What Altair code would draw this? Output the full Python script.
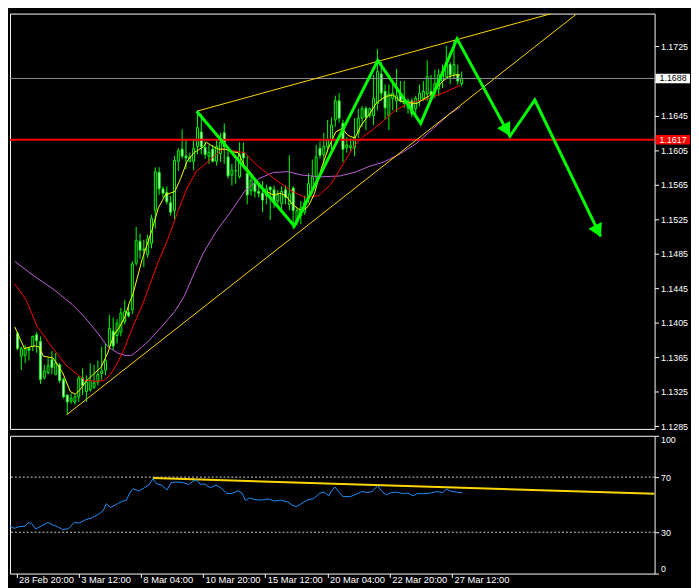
import altair as alt
import pandas as pd

# ---------------- data ----------------
opens = [1.1393,1.1366,1.1367,1.1375,1.1377,1.1391,1.1383,1.1341,1.1347,1.1362,
1.1345,1.1356,1.1339,1.1321,1.1314,1.1313,1.1319,1.1341,1.1325,1.1327,
1.1330,1.1336,1.1346,1.1350,1.1378,1.1395,1.1390,1.1394,1.1406,1.1417,
1.1420,1.1474,1.1499,1.1490,1.1484,1.1497,1.1535,1.1579,1.1560,1.1556,
1.1544,1.1535,1.1592,1.1606,1.1598,1.1592,1.1592,1.1609,1.1626,1.1608,
1.1598,1.1606,1.1592,1.1601,1.1625,1.1597,1.1576,1.1581,1.1574,1.1602,
1.1578,1.1558,1.1566,1.1557,1.1555,1.1552,1.1562,1.1559,1.1546,1.1543,
1.1559,1.1542,1.1561,1.1521,1.1529,1.1533,1.1550,1.1561,1.1574,1.1607,
1.1600,1.1609,1.1617,1.1640,1.1662,1.1636,1.1608,1.1608,1.1608,1.1625,
1.1642,1.1653,1.1645,1.1645,1.1659,1.1693,1.1673,1.1645,1.1665,1.1662,
1.1670,1.1659,1.1654,1.1662,1.1653,1.1662,1.1665,1.1670,1.1673,1.1671,
1.1676,1.1685,1.1690,1.1704,1.1693,1.1693,1.1682]
highs = [1.1394,1.1377,1.1379,1.1377,1.1390,1.1394,1.1389,1.1356,1.1364,1.1372,
1.1370,1.1358,1.1341,1.1322,1.1323,1.1322,1.1343,1.1352,1.1344,1.1358,
1.1356,1.1361,1.1377,1.1381,1.1414,1.1411,1.1409,1.1422,1.1431,1.1426,
1.1476,1.1516,1.1508,1.1501,1.1507,1.1530,1.1585,1.1585,1.1563,1.1563,
1.1552,1.1598,1.1607,1.1629,1.1618,1.1602,1.1617,1.1648,1.1647,1.1615,
1.1611,1.1611,1.1617,1.1625,1.1636,1.1608,1.1589,1.1594,1.1614,1.1614,
1.1598,1.1575,1.1570,1.1564,1.1569,1.1565,1.1563,1.1564,1.1559,1.1563,
1.1564,1.1599,1.1563,1.1538,1.1546,1.1552,1.1578,1.1594,1.1611,1.1615,
1.1625,1.1640,1.1643,1.1668,1.1671,1.1640,1.1620,1.1619,1.1642,1.1653,
1.1656,1.1656,1.1654,1.1692,1.1722,1.1707,1.1681,1.1681,1.1685,1.1699,
1.1685,1.1685,1.1665,1.1665,1.1668,1.1681,1.1685,1.1709,1.1692,1.1698,
1.1699,1.1704,1.1726,1.1707,1.1732,1.1704,1.1696]
lows = [1.1373,1.1350,1.1358,1.1361,1.1372,1.1370,1.1334,1.1339,1.1345,1.1345,
1.1344,1.1335,1.1317,1.1299,1.1311,1.1310,1.1313,1.1321,1.1313,1.1325,
1.1328,1.1332,1.1339,1.1344,1.1377,1.1373,1.1381,1.1389,1.1403,1.1411,
1.1415,1.1471,1.1479,1.1469,1.1480,1.1491,1.1514,1.1553,1.1550,1.1542,
1.1529,1.1524,1.1581,1.1595,1.1583,1.1591,1.1582,1.1600,1.1600,1.1595,
1.1589,1.1591,1.1587,1.1591,1.1589,1.1572,1.1564,1.1566,1.1572,1.1586,
1.1542,1.1552,1.1550,1.1550,1.1533,1.1542,1.1524,1.1538,1.1538,1.1536,
1.1542,1.1535,1.1513,1.1518,1.1519,1.1530,1.1544,1.1555,1.1570,1.1595,
1.1589,1.1602,1.1602,1.1632,1.1637,1.1591,1.1602,1.1604,1.1598,1.1619,
1.1632,1.1628,1.1642,1.1634,1.1651,1.1662,1.1640,1.1628,1.1651,1.1649,
1.1660,1.1654,1.1647,1.1643,1.1647,1.1656,1.1662,1.1662,1.1665,1.1665,
1.1668,1.1677,1.1687,1.1681,1.1688,1.1681,1.1679]
closes = [1.1375,1.1375,1.1375,1.1373,1.1389,1.1384,1.1339,1.1349,1.1355,1.1353,
1.1358,1.1338,1.1319,1.1313,1.1317,1.1319,1.1341,1.1332,1.1336,1.1338,
1.1335,1.1345,1.1349,1.1361,1.1398,1.1378,1.1404,1.1416,1.1418,1.1413,
1.1473,1.1500,1.1489,1.1489,1.1502,1.1526,1.1580,1.1560,1.1555,1.1545,
1.1533,1.1593,1.1604,1.1598,1.1596,1.1597,1.1607,1.1631,1.1609,1.1600,
1.1602,1.1592,1.1609,1.1614,1.1609,1.1575,1.1582,1.1581,1.1600,1.1596,
1.1553,1.1570,1.1557,1.1555,1.1547,1.1560,1.1559,1.1545,1.1553,1.1557,
1.1550,1.1554,1.1535,1.1535,1.1538,1.1544,1.1566,1.1574,1.1597,1.1599,
1.1609,1.1617,1.1634,1.1662,1.1642,1.1606,1.1611,1.1610,1.1620,1.1642,
1.1653,1.1643,1.1653,1.1665,1.1696,1.1671,1.1654,1.1670,1.1671,1.1668,
1.1662,1.1664,1.1662,1.1647,1.1665,1.1671,1.1673,1.1690,1.1670,1.1682,
1.1692,1.1696,1.1707,1.1692,1.1704,1.1685,1.1688]

ma_fast_bar = [-0.7,1.8,4.3,5.6,6.8,9.3,11.8,13.8,15.1,16.3,18.1,19.8,21.8,23.6,25.1,26.8,28.1,29.3,30.1,32.6,
35.1,36.8,38.6,41.1,42.6,44.3,46.1,48.6,49.3,51.1,52.6,54.3,56.1,57.6,59.3,61.1,62.3,63.6,65.1,66.8,
68.6,70.1,71.8,73.6,74.8,76.1,77.6,79.3,81.1,83.1,84.8,86.3,88.1,89.8,91.8,93.8,96.1,98.1,99.8,101.8,
104.3,106.1,107.6,109.3,111.1,112.6,114.3,115.6]
ma_fast_val = [1.1400,1.1375,1.1378,1.1377,1.1366,1.1364,1.1347,1.1325,1.1322,1.1327,1.1338,1.1345,1.1353,1.1370,1.1390,1.1401,1.1412,1.1429,1.1437,1.1479,
1.1512,1.1538,1.1553,1.1557,1.1572,1.1592,1.1602,1.1609,1.1614,1.1609,1.1606,1.1606,1.1603,1.1602,1.1587,1.1578,1.1570,1.1561,1.1557,1.1553,
1.1555,1.1552,1.1542,1.1536,1.1535,1.1541,1.1555,1.1583,1.1606,1.1626,1.1630,1.1622,1.1619,1.1634,1.1646,1.1660,1.1667,1.1669,1.1662,1.1660,
1.1659,1.1664,1.1668,1.1676,1.1685,1.1690,1.1692,1.1692]

ma_mid_bar = [-0.7,2.3,5.1,9.3,12.6,15.6,17.6,21.1,22.6,24.3,26.1,28.1,30.1,32.3,33.6,36.8,39.3,41.8,44.3,46.8,
48.6,51.1,53.6,55.1,59.3,62.6,67.6,71.8,75.1,78.6,81.8,85.1,87.6,90.1,92.6,95.1,98.6,102.6,106.8,111.1,115.6]
ma_mid_val = [1.1450,1.1431,1.1401,1.1375,1.1356,1.1345,1.1338,1.1337,1.1338,1.1345,1.1358,1.1377,1.1400,1.1422,1.1437,1.1476,1.1502,1.1533,1.1561,1.1581,
1.1587,1.1597,1.1606,1.1605,1.1602,1.1587,1.1570,1.1557,1.1550,1.1552,1.1565,1.1589,1.1608,1.1620,1.1628,1.1637,1.1651,1.1660,1.1664,1.1671,1.1680]

ma_slow_bar = [-0.7,4.3,9.3,14.3,17.6,21.1,23.6,26.1,28.1,29.8,31.8,34.3,37.6,41.1,43.6,46.1,48.6,51.8,56.1,59.3,
63.1,66.8,70.6,74.3,79.3,84.3,88.6,91.8,95.6,100.1,104.3,108.6,112.6,115.6]
ma_slow_val = [1.1476,1.1459,1.1444,1.1426,1.1411,1.1392,1.1377,1.1370,1.1367,1.1367,1.1374,1.1384,1.1400,1.1418,1.1436,1.1462,1.1486,1.1510,1.1536,1.1557,
1.1572,1.1579,1.1580,1.1576,1.1574,1.1575,1.1580,1.1586,1.1591,1.1601,1.1613,1.1630,1.1646,1.1655]

zigzag_bar = [46.8, 72.3, 94.1, 105.3, 114.8, 128.6, 135.1, 152.3]
zigzag_val = [1.1650, 1.1517, 1.1709, 1.1636, 1.1734, 1.1621, 1.1663, 1.1505]
arrow_bar = [127.8, 151.6]
arrow_val = [1.1628, 1.1511]
arrow_angle = [151, 154]

upper_tl_bar = [46.8, 139.3]
upper_tl_val = [1.1650, 1.1763]
lower_tl_bar = [12.8, 145.8]
lower_tl_val = [1.1298, 1.1762]

level_red = 1.1617
level_bid = 1.1688

rsi_bar = [-0.7,0.4,1.6,3.2,4.0,4.9,6.0,7.7,9.1,10.5,11.6,12.9,14.4,15.8,17.2,18.8,20.5,22.2,23.3,24.1,
25.2,27.0,28.3,29.2,30.3,31.1,32.6,33.9,35.0,36.1,37.0,38.3,39.7,40.8,42.2,43.9,45.3,46.4,47.3,48.2,
49.5,50.8,52.3,53.7,55.1,56.4,57.9,59.0,59.9,60.9,62.3,64.0,65.7,67.3,69.0,70.7,71.8,72.9,74.0,75.7,
77.4,79.0,80.2,81.3,82.0,82.9,83.8,84.9,86.8,88.5,89.8,91.3,92.4,93.9,95.0,96.1,97.4,98.8,100.2,101.7,
103.0,104.1,105.8,107.5,109.1,110.6,111.7,112.5,114.2,115.7]
rsi_val = [34.7,32.8,34.0,34.4,37.0,36.3,32.3,35.1,37.0,35.1,34.0,31.9,32.6,37.0,36.7,39.1,40.5,43.3,45.6,50.7,
47.9,50.7,52.6,53.0,59.5,61.4,60.0,62.3,64.2,68.8,65.3,64.2,60.7,66.0,66.5,66.0,64.7,67.0,68.1,64.9,
64.9,62.3,64.2,61.9,58.1,58.1,60.0,58.4,53.0,54.9,53.7,53.3,54.2,52.6,53.3,52.1,49.8,48.6,50.2,53.3,
54.4,58.4,59.1,56.3,60.0,62.8,59.5,56.0,55.8,57.7,59.5,58.8,59.5,63.7,59.5,57.2,58.8,59.1,58.1,58.4,
56.5,58.1,57.9,58.4,59.5,58.8,61.4,60.0,59.1,58.6]
rsi_tl_bar = [36.1, 165.1]
rsi_tl_val = [69.3, 57.9]
rsi_levels = [30, 70]

price_ticks = [1.1285,1.1325,1.1365,1.1405,1.1445,1.1485,1.1525,1.1565,1.1605,1.1645,1.1685,1.1725]
hidden_price_tick = 1.1685   # covered by the bid-price box in the reference
rsi_ticks = [0, 30, 70, 100]
time_tick_bars = [1, 17, 33, 49, 65, 81, 97, 113]
time_tick_labels = ["28 Feb 20:00", "3 Mar 12:00", "8 Mar 04:00", "10 Mar 20:00",
                    "15 Mar 12:00", "20 Mar 04:00", "22 Mar 20:00", "27 Mar 12:00"]

# ---------------- chart ----------------
W, H1, H2 = 655, 422, 140
FONT = "Liberation Sans"
LIME = "#00ff00"
GOLD = "#ffd700"

candles = pd.DataFrame({"bar": list(range(len(opens))), "open": opens, "high": highs,
                        "low": lows, "close": closes})

xs = alt.Scale(domain=[-0.675, 165.1], nice=False, zero=False)
ps = alt.Scale(domain=[1.12818, 1.17632], nice=False, zero=False)
rs = alt.Scale(domain=[0, 100], nice=False, zero=False)

price_axis = alt.Axis(orient="right", values=price_ticks, title=None,
                      labelExpr=f"abs(datum.value - {hidden_price_tick}) < 0.00001 ? '' : format(datum.value, '.4f')",
                      domain=False, grid=False, ticks=True, tickSize=4, tickColor="white",
                      labelColor="white", labelFont=FONT, labelFontSize=9, labelPadding=2,
                      labelFlush=False, labelOverlap=False)
rsi_axis = alt.Axis(orient="right", values=rsi_ticks, title=None, domain=False, grid=False,
                    ticks=True, tickSize=4, tickColor="white", labelColor="white",
                    labelFont=FONT, labelFontSize=9, labelPadding=2, labelFlush=True,
                    labelOverlap=False)
expr = " : ".join(f"datum.value == {b} ? '{t}'" for b, t in zip(time_tick_bars, time_tick_labels)) + " : ''"
time_axis = alt.Axis(orient="bottom", values=time_tick_bars, labelExpr=expr, title=None,
                     domain=False, grid=False, ticks=True, tickSize=4, tickColor="white",
                     labelColor="white", labelFont=FONT, labelFontSize=9.5, labelAlign="left",
                     labelBaseline="top", labelPadding=-3, labelOffset=2, labelFlush=False,
                     labelOverlap=False)


def px(f):
    return alt.X(f"{f}:Q", scale=xs, axis=None)


def py(f):
    return alt.Y(f"{f}:Q", scale=ps, axis=price_axis)


def rx(f):
    return alt.X(f"{f}:Q", scale=xs, axis=time_axis)


def ry(f):
    return alt.Y(f"{f}:Q", scale=rs, axis=rsi_axis)


def series(bars, vals):
    return pd.DataFrame({"bar": bars, "v": vals})


wicks = alt.Chart(candles).mark_rule(color=LIME, strokeWidth=1).encode(
    x=px("bar"), y=py("low"), y2="high")
bodies = alt.Chart(candles).mark_bar(size=2, stroke=LIME, strokeWidth=1).encode(
    x=px("bar"), y=py("open"), y2="close",
    fill=alt.condition("datum.close < datum.open", alt.value("white"), alt.value("black")))

ma_fast = alt.Chart(series(ma_fast_bar, ma_fast_val)).mark_line(
    color="#ffff00", strokeWidth=1, clip=True).encode(x=px("bar"), y=py("v"))
ma_mid = alt.Chart(series(ma_mid_bar, ma_mid_val)).mark_line(
    color="#ff0000", strokeWidth=1, clip=True).encode(x=px("bar"), y=py("v"))
ma_slow = alt.Chart(series(ma_slow_bar, ma_slow_val)).mark_line(
    color="#c060d8", strokeWidth=1, clip=True).encode(x=px("bar"), y=py("v"))

red_line = alt.Chart(pd.DataFrame({"v": [level_red]})).mark_rule(
    color="#ff0000", strokeWidth=2).encode(y=py("v"))
bid_line = alt.Chart(pd.DataFrame({"v": [level_bid]})).mark_rule(
    color="#8a9099", strokeWidth=1).encode(y=py("v"))

tl_up = alt.Chart(series(upper_tl_bar, upper_tl_val)).mark_line(
    color=GOLD, strokeWidth=1, clip=True).encode(x=px("bar"), y=py("v"))
tl_low = alt.Chart(series(lower_tl_bar, lower_tl_val)).mark_line(
    color=GOLD, strokeWidth=1, clip=True).encode(x=px("bar"), y=py("v"))

zigzag = alt.Chart(series(zigzag_bar, zigzag_val)).mark_line(
    color=LIME, strokeWidth=3, clip=True).encode(x=px("bar"), y=py("v"))
arrows = alt.Chart(pd.DataFrame({"bar": arrow_bar, "v": arrow_val, "ang": arrow_angle})).mark_point(
    shape="triangle-up", filled=True, color=LIME, size=230, opacity=1).encode(
    x=px("bar"), y=py("v"), angle=alt.Angle("ang:Q", scale=None))

boxes_df = pd.DataFrame({
    "v": [level_bid, level_red],
    "txt": [f"{level_bid:.4f}", f"{level_red:.4f}"],
    "bg": ["white", "#ff0000"],
    "fg": ["black", "white"],
})
boxes = alt.Chart(boxes_df).transform_calculate(
    hi="datum.v + 0.00055", lo="datum.v - 0.00055").mark_rect().encode(
    x=alt.value(W + 1), x2=alt.value(W + 36), y=py("hi"), y2="lo",
    fill=alt.Color("bg:N", scale=None))
box_text = alt.Chart(boxes_df).mark_text(
    align="left", baseline="middle", font=FONT, fontSize=9).encode(
    x=alt.value(W + 5), y=py("v"), text="txt:N", color=alt.Color("fg:N", scale=None))

top = alt.layer(wicks, bodies, ma_slow, ma_mid, ma_fast, red_line, bid_line,
                tl_up, tl_low, zigzag, arrows, boxes, box_text).properties(width=W, height=H1)

levels = alt.Chart(pd.DataFrame({"v": rsi_levels})).mark_rule(
    color="#d0d0d0", strokeWidth=1, strokeDash=[2, 2]).encode(y=ry("v"))
rsi_line = alt.Chart(series(rsi_bar, rsi_val)).mark_line(
    color="#1e90ff", strokeWidth=1, clip=True).encode(x=rx("bar"), y=ry("v"))
rsi_tl = alt.Chart(series(rsi_tl_bar, rsi_tl_val)).mark_line(
    color=GOLD, strokeWidth=2, clip=True).encode(x=rx("bar"), y=ry("v"))

bottom = alt.layer(levels, rsi_tl, rsi_line).properties(width=W, height=H2)

chart = alt.vconcat(top, bottom, spacing=3).properties(
    padding=0, background="black"
).configure_view(stroke="white", strokeWidth=1)

chart.save("out.html", embed_options={"renderer": "svg", "actions": False})
